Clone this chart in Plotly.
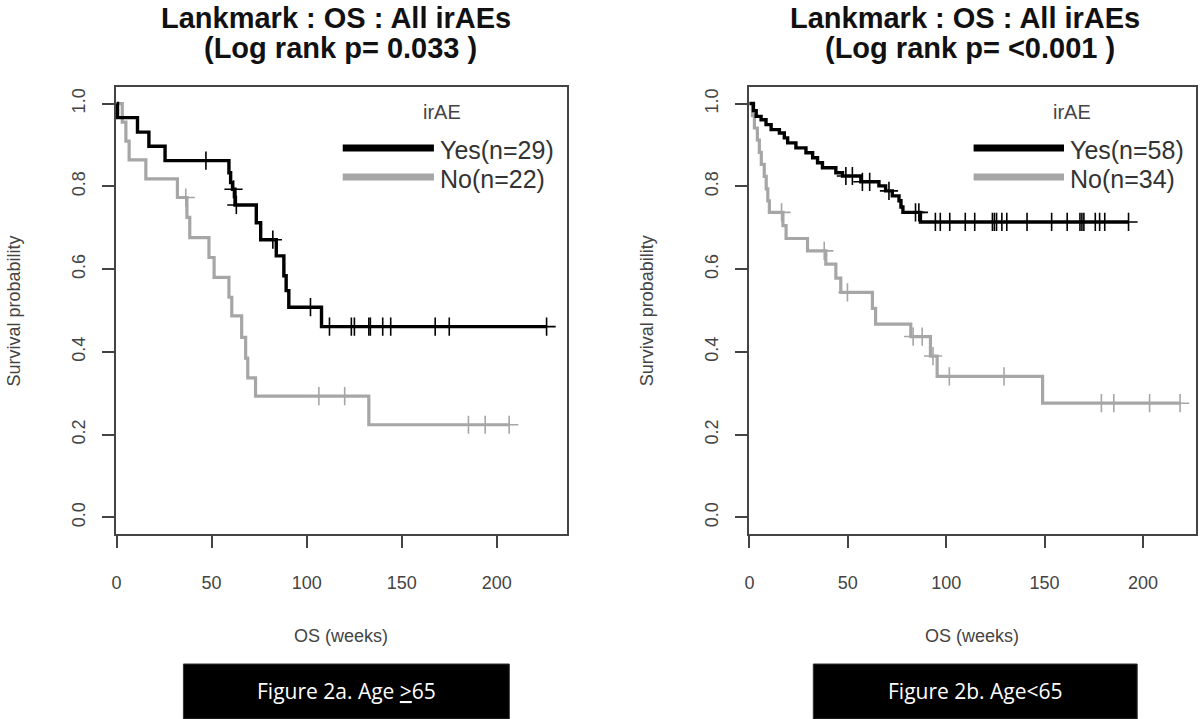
import plotly.graph_objects as go

# ---------------- data ----------------
# Panel a: Age >=65
yes_a_times = [0.5, 11, 17, 25.5, 59.1, 60.0, 61.0, 62.3, 73.5, 75.8, 84.0, 88.0, 89.2, 90.6, 107.8]
yes_a_surv = [0.966, 0.931, 0.897, 0.862, 0.833, 0.809, 0.793, 0.755, 0.712, 0.671, 0.632, 0.584, 0.548, 0.508, 0.461]
yes_a_cens = [47, 61.5, 63, 82.2, 102, 112, 123.5, 125.1, 132.7, 133.5, 140, 144.2, 167.6, 175, 226.2]

no_a_times = [3.0, 4.9, 6.6, 15.4, 32.0, 37.0, 38.5, 48.6, 51.3, 59.1, 60.6, 65.8, 67.9, 69.0, 73.1, 132.7]
no_a_surv = [0.955, 0.909, 0.864, 0.818, 0.773, 0.725, 0.676, 0.628, 0.580, 0.532, 0.487, 0.435, 0.385, 0.337, 0.293, 0.224]
no_a_cens = [36.4, 106.4, 120, 185.1, 193.9, 206.5]

# Panel b: Age <65
yes_b_times = [2.0, 3.4, 5.9, 8.4, 11.0, 15.2, 17.7, 19.4, 23.6, 28.7, 32.1, 34.6, 37.1, 43.9, 47.3,
               56.6, 65.8, 69.2, 72.6, 76.0, 77.0, 78.0, 86.9]
yes_b_surv = [0.983, 0.969, 0.961, 0.949, 0.937, 0.929, 0.917, 0.905, 0.893, 0.881, 0.869, 0.857, 0.845,
              0.833, 0.825, 0.811, 0.801, 0.789, 0.777, 0.765, 0.750, 0.737, 0.714]
yes_b_cens = [49, 52.3, 57.4, 61.1, 70.9, 84.4, 86.1, 94.5, 97.0, 101.8, 109.7, 114.5, 123.5, 124.5,
              125.6, 128.3, 130.8, 141.1, 153.6, 161.5, 168.0, 169.0, 170.0, 175.8, 178.0, 180.6, 192.7]

no_b_times = [1.5, 2.5, 4.0, 5.0, 6.0, 7.5, 8.5, 9.3, 10.1, 17.0, 18.6, 29.5, 38.8, 43.9, 46.4,
              62.5, 64.1, 82.0, 92.0, 95.4, 149.0]
no_b_surv = [0.971, 0.941, 0.912, 0.882, 0.853, 0.824, 0.794, 0.765, 0.737, 0.705, 0.674, 0.644, 0.612,
             0.578, 0.544, 0.505, 0.467, 0.437, 0.390, 0.341, 0.276]
no_b_cens = [16.3, 38.0, 49.8, 83.2, 87.8, 93.3, 101.6, 129.4, 178.9, 185.2, 203.4, 218.9]

x_ticks = [0, 50, 100, 150, 200]
y_ticks = [0.0, 0.2, 0.4, 0.6, 0.8, 1.0]
y_tick_labels = ["0.0", "0.2", "0.4", "0.6", "0.8", "1.0"]

title_line1 = ["Lankmark : OS : All irAEs", "Lankmark : OS : All irAEs"]
title_line2 = ["(Log rank p= 0.033 )", "(Log rank p= &lt;0.001 )"]
legend_labels = [["Yes(n=29)", "No(n=22)"], ["Yes(n=58)", "No(n=34)"]]
captions = ["Figure 2a. Age <u>&gt;</u>65", "Figure 2b. Age&lt;65"]

BLACK = "#000000"
GRAY = "#a6a6a6"
AXIS = "#444444"
FONT = "Liberation Sans, Arial, sans-serif"


def surv_at(times, surv, t):
    s = 1.0
    for ti, si in zip(times, surv):
        if ti <= t:
            s = si
    return s


def km_traces(times, surv, cens, color, width, xa, ya):
    end = max(cens[-1], times[-1])
    xs = [0] + times + [end]
    ys = [1.0] + surv + [surv[-1]]
    line = go.Scatter(x=xs, y=ys, mode="lines", line=dict(color=color, width=width, shape="hv"),
                      xaxis=xa, yaxis=ya, showlegend=False, hoverinfo="skip")
    marks = go.Scatter(x=cens, y=[surv_at(times, surv, c) for c in cens], mode="markers",
                       marker=dict(symbol="cross-thin", size=13, line=dict(color=color, width=1.6)),
                       xaxis=xa, yaxis=ya, showlegend=False, hoverinfo="skip")
    return [line, marks]


fig = go.Figure()
for tr in km_traces(no_a_times, no_a_surv, no_a_cens, GRAY, 3.2, "x", "y"):
    fig.add_trace(tr)
for tr in km_traces(yes_a_times, yes_a_surv, yes_a_cens, BLACK, 3.4, "x", "y"):
    fig.add_trace(tr)
for tr in km_traces(no_b_times, no_b_surv, no_b_cens, GRAY, 3.2, "x2", "y2"):
    fig.add_trace(tr)
for tr in km_traces(yes_b_times, yes_b_surv, yes_b_cens, BLACK, 3.4, "x2", "y2"):
    fig.add_trace(tr)

W, H = 1200, 719
doms_x = [[112 / W, 565 / W], [747 / W, 1196 / W]]
dom_y = [1 - 534 / H, 1 - 87 / H]

axis_common = dict(showline=True, linecolor=AXIS, linewidth=1.5, mirror=True, ticks="outside",
                   ticklen=12, tickwidth=1.5, tickcolor=AXIS, showgrid=False, zeroline=False,
                   tickfont=dict(family=FONT, size=18, color=AXIS))

fig.update_layout(
    width=W, height=H, margin=dict(l=0, r=0, t=0, b=0),
    paper_bgcolor="white", plot_bgcolor="white", showlegend=False,
    xaxis=dict(domain=doms_x[0], range=[-0.5, 237], tickvals=x_ticks, anchor="y",
               ticklabelstandoff=20, **axis_common),
    yaxis=dict(domain=dom_y, range=[-0.04, 1.04], tickvals=y_ticks, ticktext=y_tick_labels,
               tickangle=-90, anchor="x", ticklabelstandoff=10, **axis_common),
    xaxis2=dict(domain=doms_x[1], range=[-0.5, 227], tickvals=x_ticks, anchor="y2",
                ticklabelstandoff=20, **axis_common),
    yaxis2=dict(domain=dom_y, range=[-0.04, 1.04], tickvals=y_ticks, ticktext=y_tick_labels,
                tickangle=-90, anchor="x2", ticklabelstandoff=10, **axis_common),
)

annotations = []
shapes = []
title_cx = [333 / W, 964 / W]
for i, (xr, yr) in enumerate([("x domain", "y domain"), ("x2 domain", "y2 domain")]):
    d0, d1 = doms_x[i]
    cx = (d0 + d1) / 2
    # title (two lines)
    annotations.append(dict(text="<b>" + title_line1[i] + "</b>", x=title_cx[i], y=1.0, xref="paper",
                            yref="paper", xanchor="center", yanchor="top", showarrow=False,
                            font=dict(family=FONT, size=29, color="#111111")))
    annotations.append(dict(text="<b>" + title_line2[i] + "</b>", x=title_cx[i] + 5 / W, y=1 - 48 / H,
                            xref="paper", yref="paper", xanchor="center", yanchor="middle", showarrow=False,
                            font=dict(family=FONT, size=29, color="#111111")))
    # axis titles
    annotations.append(dict(text="OS (weeks)", x=cx, y=1 - 636 / H, xref="paper", yref="paper",
                            xanchor="center", yanchor="middle", showarrow=False,
                            font=dict(family=FONT, size=18, color=AXIS)))
    annotations.append(dict(text="Survival probability", x=(d0 * W - 102) / W, y=(dom_y[0] + dom_y[1]) / 2,
                            xref="paper", yref="paper", textangle=-90, xanchor="center", yanchor="middle",
                            showarrow=False, font=dict(family=FONT, size=18, color=AXIS)))
    # legend
    annotations.append(dict(text="irAE", x=0.723, y=0.944, xref=xr, yref=yr, xanchor="center",
                            yanchor="middle", showarrow=False, font=dict(family=FONT, size=20, color=AXIS)))
    for j, (lab, col, yy) in enumerate(zip(legend_labels[i], [BLACK, GRAY], [0.8635, 0.7987])):
        shapes.append(dict(type="line", xref=xr, yref=yr, x0=0.503, x1=0.705, y0=yy, y1=yy,
                           line=dict(color=col, width=7)))
        annotations.append(dict(text=lab, x=0.714, y=yy - 0.004, xref=xr, yref=yr, xanchor="left",
                                yanchor="middle", showarrow=False,
                                font=dict(family=FONT, size=25, color="#333333")))

# captions
for i, (l, r) in enumerate([(180, 507), (812, 1137)]):
    shapes.append(dict(type="rect", xref="paper", yref="paper", x0=l / W, x1=r / W, y0=0, y1=1 - 664 / H,
                       fillcolor="black", line=dict(color="#333333", width=1)))
    annotations.append(dict(text=captions[i], x=(l + r) / 2 / W, y=1 - 691 / H, xref="paper", yref="paper",
                            xanchor="center", yanchor="middle", showarrow=False,
                            font=dict(family="Open Sans, sans-serif", size=21, color="white")))

fig.update_layout(annotations=annotations, shapes=shapes)
fig.write_html("out.html", config={"displayModeBar": False},
               post_script="document.body.style.margin='0';document.body.style.overflow='hidden';")
